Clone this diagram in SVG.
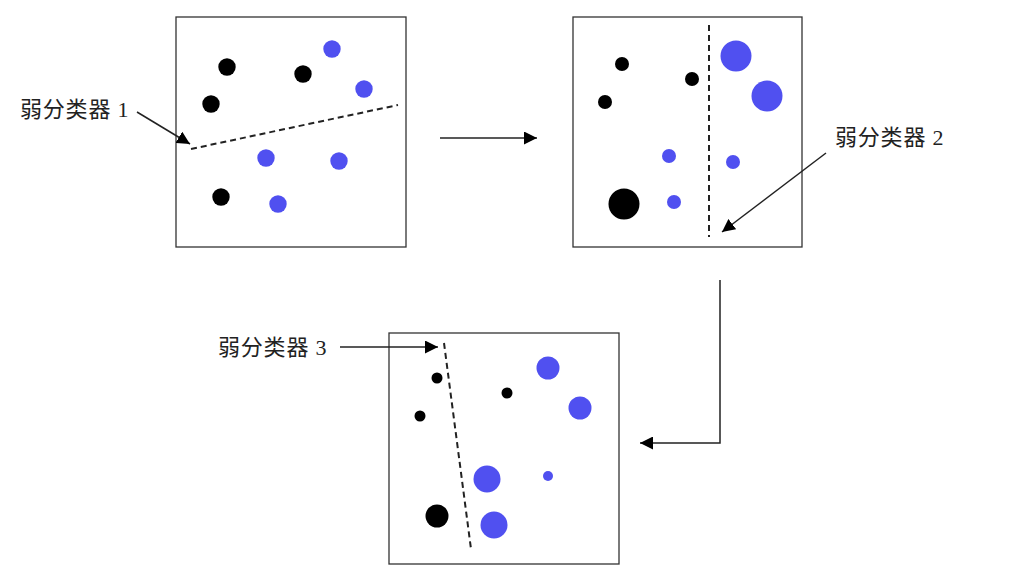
<svg xmlns="http://www.w3.org/2000/svg" width="1012" height="580" viewBox="0 0 1012 580">
<style>
.box{fill:#fff;stroke:#333;stroke-width:1.3}
.b{fill:#000}
.u{fill:#5050f0}
.dash{stroke:#222;stroke-width:2;stroke-dasharray:6 4;fill:none}
.conn{stroke:#222;stroke-width:1.5;fill:none}
.lbl{font-family:"Liberation Serif","Noto Sans CJK SC",serif;font-size:22px;letter-spacing:0.8px;fill:#222}
</style>
<defs>
<marker id="ah" viewBox="0 0 10 10" refX="10" refY="5" markerWidth="13" markerHeight="13" markerUnits="userSpaceOnUse" orient="auto">
<path d="M0,0 L10,5 L0,10 z" fill="#000"/>
</marker>
</defs>
<rect width="1012" height="580" fill="#fff"/>
<g id="node1">
<rect class="box" x="176" y="17" width="230" height="230"/>
<circle class="b" cx="227" cy="67" r="8.7"/>
<circle class="b" cx="303" cy="74" r="8.7"/>
<circle class="b" cx="211" cy="104" r="8.7"/>
<circle class="b" cx="221" cy="197" r="8.7"/>
<circle class="u" cx="332" cy="49" r="8.7"/>
<circle class="u" cx="364" cy="89" r="8.7"/>
<circle class="u" cx="266" cy="158" r="8.7"/>
<circle class="u" cx="339" cy="161" r="8.7"/>
<circle class="u" cx="278" cy="204" r="8.7"/>
<line class="dash" x1="191" y1="149" x2="398" y2="105"/>
</g>
<g id="node2">
<rect class="box" x="573" y="17" width="229" height="230"/>
<circle class="b" cx="622" cy="64" r="7"/>
<circle class="b" cx="692" cy="79" r="7"/>
<circle class="b" cx="605" cy="102" r="7"/>
<circle class="b" cx="624" cy="204" r="15.5"/>
<circle class="u" cx="736" cy="56" r="15.5"/>
<circle class="u" cx="767" cy="96" r="15.5"/>
<circle class="u" cx="669" cy="156" r="7"/>
<circle class="u" cx="733" cy="162" r="7"/>
<circle class="u" cx="674" cy="202" r="7"/>
<line class="dash" x1="709" y1="25" x2="709" y2="237"/>
</g>
<g id="node3">
<rect class="box" x="389" y="333" width="230" height="231"/>
<circle class="b" cx="437" cy="378" r="5.5"/>
<circle class="b" cx="507" cy="393" r="5.5"/>
<circle class="b" cx="420" cy="416" r="5.5"/>
<circle class="b" cx="437" cy="516" r="11.5"/>
<circle class="u" cx="548" cy="368" r="11.5"/>
<circle class="u" cx="580" cy="408" r="11.5"/>
<circle class="u" cx="487" cy="479" r="13.5"/>
<circle class="u" cx="548" cy="476" r="5"/>
<circle class="u" cx="494" cy="525" r="13.5"/>
<line class="dash" x1="444" y1="343" x2="471" y2="549"/>
</g>
<g id="label1"><text class="lbl" x="20" y="117">弱分类器 1</text></g>
<g id="label2"><text class="lbl" x="835" y="145">弱分类器 2</text></g>
<g id="label3"><text class="lbl" x="218" y="355">弱分类器 3</text></g>
<g id="connectors">
<line class="conn" x1="137" y1="112" x2="190" y2="144" marker-end="url(#ah)"/>
<line class="conn" x1="826" y1="153" x2="722" y2="232" marker-end="url(#ah)"/>
<line class="conn" x1="340" y1="347" x2="438" y2="347" marker-end="url(#ah)"/>
<line class="conn" x1="440" y1="138" x2="537" y2="138" marker-end="url(#ah)"/>
<polyline class="conn" points="720,280 720,443 640,443" marker-end="url(#ah)"/>
</g>
</svg>
